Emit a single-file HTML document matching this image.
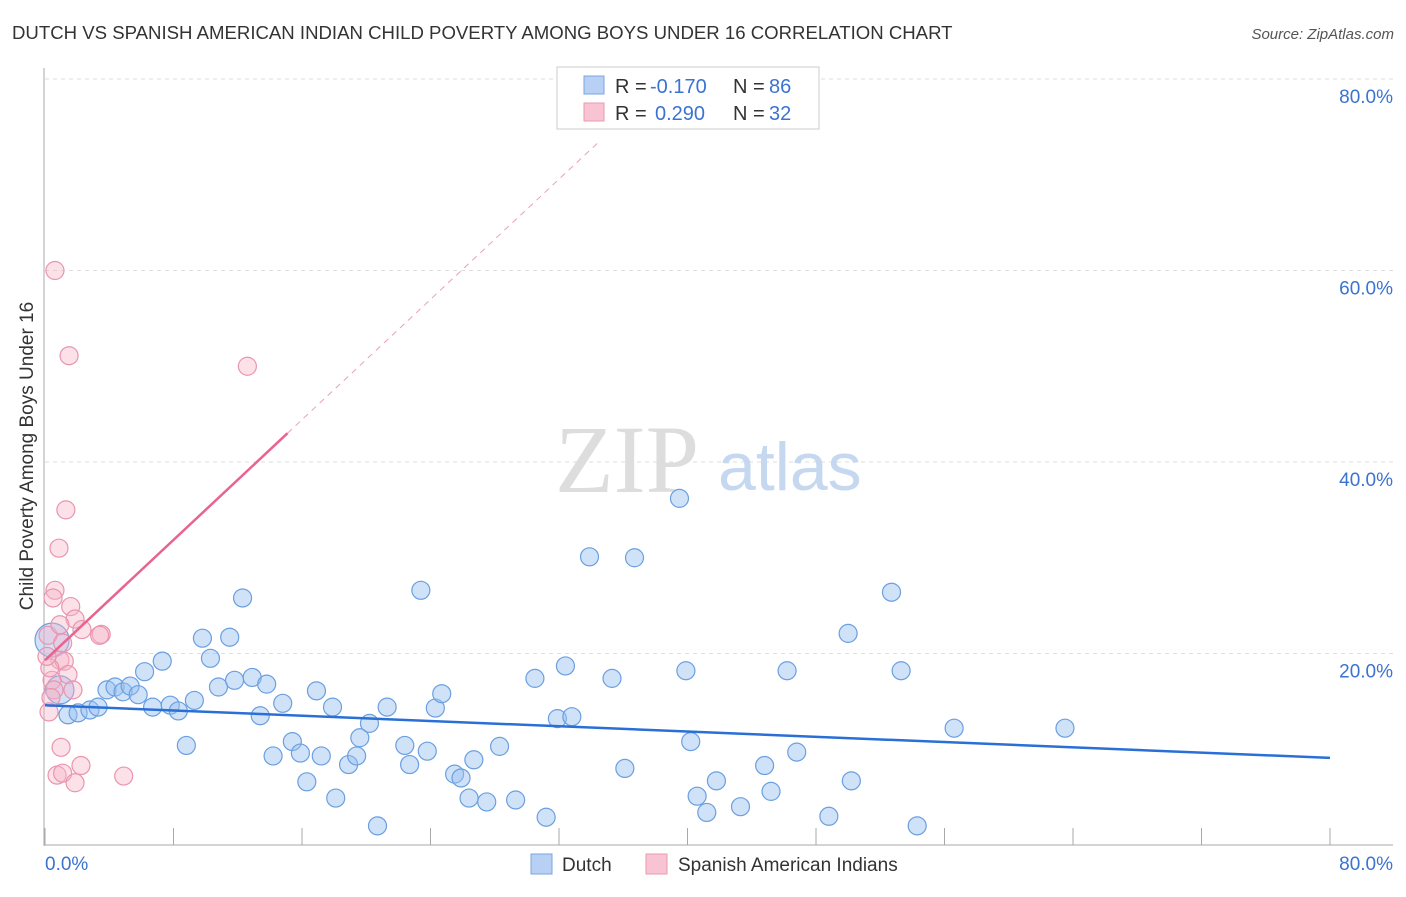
<!DOCTYPE html>
<html><head><meta charset="utf-8"><style>
body{margin:0;background:#fff;font-family:"Liberation Sans",sans-serif}
</style></head><body>
<svg width="1406" height="892" xmlns="http://www.w3.org/2000/svg">
<text x="12" y="39" font-size="18.6" fill="#333">DUTCH VS SPANISH AMERICAN INDIAN CHILD POVERTY AMONG BOYS UNDER 16 CORRELATION CHART</text>
<text x="1394" y="39" font-size="15" fill="#555" font-style="italic" text-anchor="end">Source: ZipAtlas.com</text>
<g id="grid"></g>
<text x="555" y="492" font-size="96" fill="#ddd" font-family="Liberation Serif,serif">ZIP</text>
<text x="718" y="490" font-size="68" fill="#c5d8f0">atlas</text>
<text x="33" y="456" font-size="19" fill="#333" text-anchor="middle" transform="rotate(-90 33 456)">Child Poverty Among Boys Under 16</text>
<g id="marks"></g>
<g>
<rect x="557" y="67" width="262" height="62" fill="#fff" stroke="#ccc"/>
<rect x="584" y="76" width="20" height="18" fill="#b7d0f3" stroke="#7aa6e0"/>
<rect x="584" y="103" width="20" height="18" fill="#f8c4d3" stroke="#e99ab1"/>
<text x="615" y="93" font-size="20" fill="#333">R =</text>
<text x="650" y="93" font-size="20" fill="#3b73d0">-0.170</text>
<text x="733" y="93" font-size="20" fill="#333">N =</text>
<text x="769" y="93" font-size="20" fill="#3b73d0">86</text>
<text x="615" y="120" font-size="20" fill="#333">R =</text>
<text x="655" y="120" font-size="20" fill="#3b73d0">0.290</text>
<text x="733" y="120" font-size="20" fill="#333">N =</text>
<text x="769" y="120" font-size="20" fill="#3b73d0">32</text>
</g>
<g>
<rect x="531" y="854" width="21" height="20" fill="#b7d0f3" stroke="#7aa6e0"/>
<text x="562" y="871" font-size="19" fill="#333">Dutch</text>
<rect x="646" y="854" width="21" height="20" fill="#f8c4d3" stroke="#e99ab1"/>
<text x="678" y="871" font-size="19" fill="#333">Spanish American Indians</text>
</g>
</svg>
<script>
const yTicks=[20,40,60,80];
const yTickLabels=["20.0%","40.0%","60.0%","80.0%"];
const xTicks=[0,8,16,24,32,40,48,56,64,72,80];
const dutchX=[0.44,0.93,1.43,2.06,2.8,3.3,3.86,4.36,4.86,5.3,5.8,6.2,6.7,7.3,7.8,8.3,8.8,9.3,9.8,10.3,10.8,11.5,11.8,12.3,12.9,13.4,13.8,14.2,14.8,15.4,15.9,16.3,16.9,17.2,17.9,18.1,18.9,19.4,19.6,20.2,20.7,21.3,22.4,22.7,23.4,23.8,24.3,24.7,25.5,25.9,26.4,26.7,27.5,28.3,29.3,30.5,31.2,31.9,32.4,32.8,33.9,35.3,36.1,36.7,39.5,39.9,40.2,40.6,41.2,41.8,43.3,44.8,45.2,46.2,46.8,48.8,50.0,50.2,52.7,53.3,54.3,56.6,63.5];
const dutchY=[21.4,16.2,13.6,13.8,14.1,14.4,16.2,16.5,16.0,16.6,15.7,18.1,14.4,19.2,14.6,14.0,10.4,15.1,21.6,19.5,16.5,21.7,17.2,25.8,17.5,13.5,16.8,9.3,14.8,10.8,9.6,6.6,16.1,9.3,14.4,4.9,8.4,9.3,11.2,12.7,2.0,14.4,10.4,8.4,26.6,9.8,14.3,15.8,7.4,7.0,4.9,8.9,4.5,10.3,4.7,17.4,2.9,13.2,18.7,13.4,30.1,17.4,8.0,30.0,36.2,18.2,10.8,5.1,3.4,6.7,4.0,8.3,5.6,18.2,9.7,3.0,22.1,6.7,26.4,18.2,2.0,12.2,12.2];
const spanX=[0.62,1.5,12.6,1.3,0.87,0.62,0.5,1.6,1.87,2.3,3.5,3.4,0.19,1.1,0.93,1.2,1.43,0.44,0.56,1.74,0.37,0.25,1.0,0.75,1.1,4.9,1.87,2.24,0.3,0.12,0.93];
const spanY=[60.0,51.1,50.0,35.0,31.0,26.6,25.8,24.9,23.6,22.5,22.0,21.9,21.9,21.1,19.3,19.2,17.8,17.2,16.2,16.2,15.4,13.9,10.2,7.3,7.5,7.2,6.5,8.3,18.5,19.7,23.0];
const dutchTrend=[14.6,9.1];
const spanTrend=[19.3,1.57];
const NS="http://www.w3.org/2000/svg";
const sx=v=>45+v*1285/80, sy=v=>845-v*191.5/20;
function mk(t,a,p){const e=document.createElementNS(NS,t);for(const k in a)e.setAttribute(k,a[k]);p.appendChild(e);return e;}
const g=document.getElementById('grid'), m=document.getElementById('marks');
const ax=mk('line',{x1:44,y1:68,x2:44,y2:846,stroke:'#aaa'},g);


const bx=mk('line',{x1:44,y1:845,x2:1393,y2:845,stroke:'#aaa'},g);


yTicks.forEach((t,i)=>{const l=mk('line',{x1:45,x2:1393,y1:sy(t),y2:sy(t),stroke:'#ddd','stroke-dasharray':'4,4'},g);


const tx=mk('text',{x:1393,y:sy(t)+24,'font-size':19,fill:'#3b73d0','text-anchor':'end'},g);tx.textContent=yTickLabels[i];

});
xTicks.forEach(t=>{const l=mk('line',{x1:sx(t),x2:sx(t),y1:828,y2:845,stroke:'#aaa'},g);

});
[[0,"0.0%",'start',45],[80,"80.0%",'end',1393]].forEach(a=>{const tx=mk('text',{x:a[3],y:870,'font-size':19,fill:'#3b73d0','text-anchor':a[2]},g);tx.textContent=a[1];

});
dutchX.forEach((x,i)=>{const c=mk('circle',{cx:sx(x),cy:sy(dutchY[i]),r:i<2?(i==0?17:14):9,fill:'rgba(150,190,240,0.45)',stroke:'#6a9fe0','stroke-width':1.2},m);

});
spanX.forEach((x,i)=>{const c=mk('circle',{cx:sx(x),cy:sy(spanY[i]),r:9,fill:'rgba(248,180,200,0.4)',stroke:'#e995af','stroke-width':1.2},m);

});
const bl=mk('line',{x1:sx(0),y1:sy(dutchTrend[0]),x2:sx(80),y2:sy(dutchTrend[1]),stroke:'#2a6fd6','stroke-width':2.5},m);


const pl=mk('line',{x1:sx(0),y1:sy(spanTrend[0]),x2:sx(15.1),y2:sy(spanTrend[0]+spanTrend[1]*15.1),stroke:'#e8648e','stroke-width':2.5},m);


const pd=mk('line',{x1:sx(15.1),y1:sy(spanTrend[0]+spanTrend[1]*15.1),x2:sx(34.6),y2:sy(spanTrend[0]+spanTrend[1]*34.6),stroke:'#eaa0b8','stroke-width':1,'stroke-dasharray':'6,5'},m);


</script>
</body></html>
